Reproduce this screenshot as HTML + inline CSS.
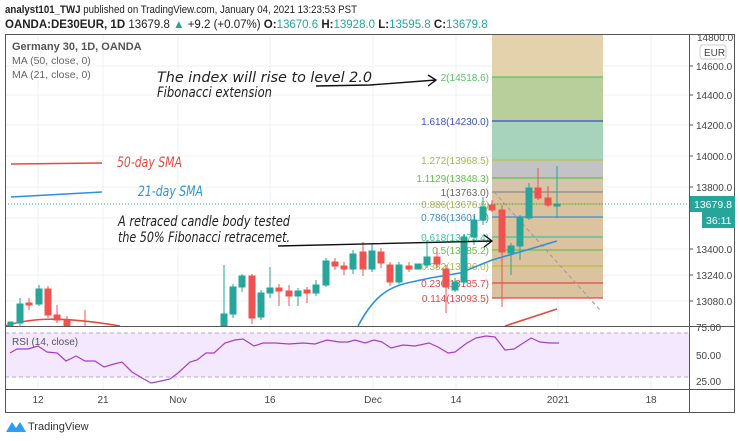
<!DOCTYPE html>
<html><head><meta charset="utf-8"><style>
html,body{margin:0;padding:0;background:#fff;}
svg{display:block;font-family:"Liberation Sans",sans-serif;}
</style></head><body>
<svg width="740" height="441" viewBox="0 0 740 441" xmlns="http://www.w3.org/2000/svg">
<rect width="740" height="441" fill="#fff"/>
<text x="5" y="13" font-size="11" fill="#222" textLength="352" lengthAdjust="spacingAndGlyphs"><tspan font-weight="bold">analyst101_TWJ</tspan> published on TradingView.com, January 04, 2021 13:23:53 PST</text>
<text x="5" y="28" font-size="11.5" fill="#222"><tspan font-weight="bold">OANDA:DE30EUR, 1D</tspan> 13679.8 <tspan fill="#26a69a">▲</tspan> +9.2 (+0.07%) <tspan font-weight="bold">O:</tspan><tspan fill="#26a69a">13670.6</tspan> <tspan font-weight="bold">H:</tspan><tspan fill="#26a69a">13928.0</tspan> <tspan font-weight="bold">L:</tspan><tspan fill="#26a69a">13595.8</tspan> <tspan font-weight="bold">C:</tspan><tspan fill="#26a69a">13679.8</tspan></text>
<!-- grid -->
<g stroke="#eef0f3" stroke-width="1">
<line x1="38" y1="34" x2="38" y2="389"/><line x1="103" y1="34" x2="103" y2="389"/><line x1="178" y1="34" x2="178" y2="389"/><line x1="270" y1="34" x2="270" y2="389"/><line x1="373" y1="34" x2="373" y2="389"/><line x1="456" y1="34" x2="456" y2="389"/><line x1="558" y1="34" x2="558" y2="389"/><line x1="651" y1="34" x2="651" y2="389"/>
<line x1="5" y1="66" x2="689" y2="66"/><line x1="5" y1="95" x2="689" y2="95"/><line x1="5" y1="125" x2="689" y2="125"/><line x1="5" y1="156" x2="689" y2="156"/><line x1="5" y1="187" x2="689" y2="187"/><line x1="5" y1="218" x2="689" y2="218"/><line x1="5" y1="249" x2="689" y2="249"/><line x1="5" y1="275" x2="689" y2="275"/><line x1="5" y1="301" x2="689" y2="301"/>
</g>
<!-- fib zone -->
<rect x="492" y="34" width="111" height="43" fill="#e3d2ab"/>
<rect x="492" y="77" width="111" height="44" fill="#b9cf9b"/>
<rect x="492" y="121" width="111" height="39" fill="#a7d3bd"/>
<rect x="492" y="160" width="111" height="18" fill="#c3c3c6"/>
<rect x="492" y="178" width="111" height="14" fill="#d6c5ad"/>
<rect x="492" y="192" width="111" height="106" fill="#dcc3a0"/>
<g stroke-width="1.2">
<line x1="492" y1="77" x2="603" y2="77" stroke="#5bbf6a"/>
<line x1="492" y1="121" x2="603" y2="121" stroke="#3d4fc4"/>
<line x1="492" y1="160" x2="603" y2="160" stroke="#b5c455"/>
<line x1="492" y1="178" x2="603" y2="178" stroke="#5cc34a"/>
<line x1="492" y1="192" x2="603" y2="192" stroke="#8a8a8a"/>
<line x1="492" y1="204" x2="603" y2="204" stroke="#b6c040"/>
<line x1="492" y1="217" x2="603" y2="217" stroke="#3a8fd0"/>
<line x1="492" y1="237" x2="603" y2="237" stroke="#3cc5a0"/>
<line x1="492" y1="250" x2="603" y2="250" stroke="#6cbf3f"/>
<line x1="492" y1="266" x2="603" y2="266" stroke="#b6c040"/>
<line x1="492" y1="283" x2="603" y2="283" stroke="#e04848"/>
<line x1="492" y1="298" x2="603" y2="298" stroke="#e04848"/>
</g>
<line x1="494" y1="192" x2="600" y2="310" stroke="#999" stroke-dasharray="4,3"/>
<g font-size="10" text-anchor="end">
<text x="489" y="81" fill="#5bbf6a">2(14518.6)</text>
<text x="489" y="125" fill="#3d4fc4">1.618(14230.0)</text>
<text x="489" y="164" fill="#a6b84a">1.272(13968.5)</text>
<text x="489" y="182" fill="#5cc34a">1.1129(13848.3)</text>
<text x="489" y="196" fill="#666">1(13763.0)</text>
<text x="489" y="208" fill="#b0b840">0.886(13676.6)</text>
<text x="489" y="221" fill="#3a8fd0">0.786(13601.3)</text>
<text x="489" y="241" fill="#3cc5a0">0.618(13473.4)</text>
<text x="489" y="254" fill="#6cbf3f">0.5(13385.2)</text>
<text x="489" y="270" fill="#b0b840">0.382(13296.0)</text>
<text x="489" y="287" fill="#e04848">0.236(13185.7)</text>
<text x="489" y="302" fill="#e04848">0.114(13093.5)</text>
</g>
<!-- price line -->
<line x1="5" y1="204" x2="689" y2="204" stroke="#26a69a" stroke-dasharray="1,2"/>
<!-- MAs -->
<path d="M5,326 C30,318 60,316 120,326" fill="none" stroke="#e64a3c" stroke-width="1.6"/>
<path d="M505,326 L557,309" fill="none" stroke="#e64a3c" stroke-width="1.6"/>
<path d="M358,326 C372,300 385,288 407,283 L430,278 L460,273 L492,260 L530,249 L557,241" fill="none" stroke="#2f8fdc" stroke-width="1.6"/>
<!-- candles -->
<g stroke-width="1">
<g fill="#26a69a" stroke="#26a69a">
<rect x="8" y="322" width="5" height="4"/>
<line x1="20" y1="298" x2="20" y2="326"/><rect x="17" y="304" width="6" height="19"/>
<line x1="39" y1="285" x2="39" y2="306"/><rect x="36" y="289" width="6" height="15"/>
<line x1="224" y1="265" x2="224" y2="326"/><rect x="221" y="314" width="6" height="12"/>
<line x1="233" y1="284" x2="233" y2="318"/><rect x="230" y="287" width="6" height="27"/>
<line x1="242" y1="274" x2="242" y2="292"/><rect x="239" y="276" width="6" height="11"/>
<line x1="261" y1="290" x2="261" y2="320"/><rect x="258" y="293" width="6" height="24"/>
<line x1="270" y1="267" x2="270" y2="298"/><rect x="267" y="288" width="6" height="5"/>
<line x1="298" y1="288" x2="298" y2="306"/><rect x="295" y="291" width="6" height="5"/>
<line x1="316" y1="280" x2="316" y2="296"/><rect x="313" y="285" width="6" height="8"/>
<line x1="326" y1="258" x2="326" y2="287"/><rect x="323" y="261" width="6" height="24"/>
<line x1="353" y1="250" x2="353" y2="274"/><rect x="350" y="254" width="6" height="15"/>
<line x1="372" y1="244" x2="372" y2="272"/><rect x="369" y="251" width="6" height="18"/>
<line x1="399" y1="262" x2="399" y2="284"/><rect x="396" y="265" width="6" height="17"/>
<rect x="415" y="264" width="6" height="5"/>
<line x1="427" y1="240" x2="427" y2="268"/><rect x="424" y="257" width="6" height="8"/>
<line x1="455" y1="278" x2="455" y2="292"/><rect x="452" y="282" width="6" height="8"/>
<line x1="464" y1="234" x2="464" y2="284"/><rect x="461" y="237" width="6" height="45"/>
<line x1="474" y1="216" x2="474" y2="245"/><rect x="471" y="220" width="6" height="17"/>
<line x1="483" y1="197" x2="483" y2="225"/><rect x="480" y="207" width="6" height="13"/>
<line x1="511" y1="243" x2="511" y2="275"/><rect x="508" y="246" width="6" height="7"/>
<line x1="520" y1="215" x2="520" y2="260"/><rect x="517" y="218" width="6" height="28"/>
<line x1="529" y1="183" x2="529" y2="220"/><rect x="526" y="188" width="6" height="30"/>
<line x1="557" y1="166" x2="557" y2="218"/><rect x="554" y="204" width="6" height="2"/>
</g>
<g fill="#ef5350" stroke="#ef5350">
<line x1="29" y1="298" x2="29" y2="310"/><rect x="26" y="303" width="6" height="2"/>
<line x1="48" y1="286" x2="48" y2="318"/><rect x="45" y="289" width="6" height="26"/>
<line x1="57" y1="305" x2="57" y2="323"/><rect x="54" y="315" width="6" height="5"/>
<line x1="67" y1="316" x2="67" y2="326"/><rect x="64" y="320" width="6" height="6"/>
<line x1="85" y1="310" x2="85" y2="326"/>
<line x1="252" y1="274" x2="252" y2="324"/><rect x="249" y="276" width="6" height="42"/>
<line x1="279" y1="284" x2="279" y2="306"/><rect x="276" y="288" width="6" height="3"/>
<line x1="289" y1="285" x2="289" y2="306"/><rect x="286" y="291" width="6" height="5"/>
<line x1="307" y1="287" x2="307" y2="303"/><rect x="304" y="290" width="6" height="3"/>
<line x1="335" y1="258" x2="335" y2="270"/><rect x="332" y="262" width="6" height="4"/>
<line x1="344" y1="262" x2="344" y2="275"/><rect x="341" y="266" width="6" height="3"/>
<line x1="363" y1="242" x2="363" y2="276"/><rect x="360" y="252" width="6" height="17"/>
<line x1="381" y1="248" x2="381" y2="268"/><rect x="378" y="252" width="6" height="11"/>
<line x1="390" y1="262" x2="390" y2="286"/><rect x="387" y="265" width="6" height="17"/>
<line x1="409" y1="262" x2="409" y2="272"/><rect x="406" y="266" width="6" height="3"/>
<line x1="437" y1="248" x2="437" y2="268"/><rect x="434" y="257" width="6" height="7"/>
<line x1="446" y1="265" x2="446" y2="313"/><rect x="443" y="269" width="6" height="18"/>
<line x1="492" y1="200" x2="492" y2="212"/><rect x="489" y="205" width="6" height="5"/>
<line x1="502" y1="205" x2="502" y2="307"/><rect x="499" y="210" width="6" height="42"/>
<line x1="538" y1="168" x2="538" y2="200"/><rect x="535" y="188" width="6" height="10"/>
<line x1="548" y1="186" x2="548" y2="207"/><rect x="545" y="198" width="6" height="7"/>
</g>
</g>
<!-- legend -->
<text x="12" y="50" font-size="11" font-weight="bold" fill="#555">Germany 30, 1D, OANDA</text>
<text x="12" y="64" font-size="10.5" fill="#666">MA (50, close, 0)</text>
<text x="12" y="78" font-size="10.5" fill="#666">MA (21, close, 0)</text>
<!-- annotations -->
<g font-style="italic" font-size="14" fill="#222" font-family="DejaVu Sans,sans-serif">
<text x="157" y="82" textLength="215" lengthAdjust="spacingAndGlyphs">The index will rise to level 2.0</text>
<text x="157" y="97" textLength="115" lengthAdjust="spacingAndGlyphs">Fibonacci extension</text>
<text x="118" y="226" textLength="172" lengthAdjust="spacingAndGlyphs">A retraced candle body tested</text>
<text x="118" y="242" textLength="172" lengthAdjust="spacingAndGlyphs">the 50% Fibonacci retracemet.</text>
<text x="117" y="167" fill="#e64a3c" textLength="65" lengthAdjust="spacingAndGlyphs">50-day SMA</text>
<text x="138" y="196" fill="#2f8fdc" textLength="65" lengthAdjust="spacingAndGlyphs">21-day SMA</text>
</g>
<path d="M316,86 L370,85 L436,80 M428,75 L436,80 L428,86" fill="none" stroke="#111" stroke-width="1.4"/>
<path d="M278,246 L492,241 M484,235 L492,241 L484,247" fill="none" stroke="#111" stroke-width="1.4"/>
<line x1="11" y1="164" x2="102" y2="163" stroke="#e64a3c" stroke-width="1.6"/>
<line x1="11" y1="197" x2="102" y2="192" stroke="#2f8fdc" stroke-width="1.6"/>
<!-- RSI -->
<rect x="5" y="333" width="684" height="44" fill="#f3e8fd"/>
<line x1="5" y1="333" x2="689" y2="333" stroke="#b9a8c8" stroke-dasharray="4,3"/>
<line x1="5" y1="377" x2="689" y2="377" stroke="#b9a8c8" stroke-dasharray="4,3"/>
<text x="12" y="345" font-size="10" fill="#555">RSI (14, close)</text>
<polyline fill="none" stroke="#a43fc4" stroke-width="1.2" points="10,353 17,349 28,349 38,346 47,352 57,353 66,361 76,356 85,361 95,361 104,367 114,364 122,362 132,372 142,378 151,383 161,381 170,379 178,373 190,362 197,360 206,353 214,353 225,343 235,340 243,339 254,346 263,343 275,343 289,344 303,343 315,344 327,340 339,342 348,342 355,340 365,343 374,340 382,342 391,348 403,345 415,346 429,343 438,347 448,353 455,352 467,343 476,338 486,336 495,337 505,350 514,349 531,338 540,342 550,343 559,343"/>
<!-- frames -->
<g stroke="#555" fill="none" stroke-width="1">
<rect x="5.5" y="34.5" width="729" height="378"/>
<line x1="5" y1="326.5" x2="735" y2="326.5"/>
<line x1="5" y1="389.5" x2="735" y2="389.5"/>
<line x1="689.5" y1="34" x2="689.5" y2="413"/>
</g>
<!-- price axis -->
<g font-size="10" fill="#444">
<text x="697" y="41">14800.0</text>
<rect x="700" y="45" width="26" height="14" rx="3" fill="#fff" stroke="#ccc"/>
<text x="704" y="56">EUR</text>
<text x="696" y="70">14600.0</text><text x="696" y="99">14400.0</text><text x="696" y="129">14200.0</text><text x="696" y="160">14000.0</text><text x="696" y="191">13800.0</text><text x="696" y="253">13400.0</text><text x="696" y="279">13240.0</text><text x="696" y="305">13080.0</text>
<text x="696" y="331">75.00</text><text x="696" y="359">50.00</text><text x="696" y="385">25.00</text>
</g>
<g stroke="#555"><line x1="689" y1="66" x2="693" y2="66"/><line x1="689" y1="95" x2="693" y2="95"/><line x1="689" y1="125" x2="693" y2="125"/><line x1="689" y1="156" x2="693" y2="156"/><line x1="689" y1="187" x2="693" y2="187"/><line x1="689" y1="249" x2="693" y2="249"/><line x1="689" y1="275" x2="693" y2="275"/><line x1="689" y1="301" x2="693" y2="301"/></g>
<rect x="690" y="196" width="45" height="16" fill="#26a69a"/>
<text x="694" y="208" font-size="10.5" fill="#fff">13679.8</text>
<rect x="702" y="212" width="33" height="16" fill="#26a69a"/>
<text x="706" y="224" font-size="10.5" fill="#fff">36:11</text>
<!-- time axis -->
<g font-size="10" fill="#444" text-anchor="middle">
<text x="38" y="403">12</text><text x="103" y="403">21</text><text x="178" y="403">Nov</text><text x="270" y="403">16</text><text x="373" y="403">Dec</text><text x="456" y="403">14</text><text x="558" y="403">2021</text><text x="651" y="403">18</text>
</g>
<!-- logo -->
<path d="M6,432 L12,422 L16,428 L20,422 L26,432 Z" fill="#2a9df4"/>
<text x="28" y="430" font-size="11" fill="#333">TradingView</text>
</svg>
</body></html>
